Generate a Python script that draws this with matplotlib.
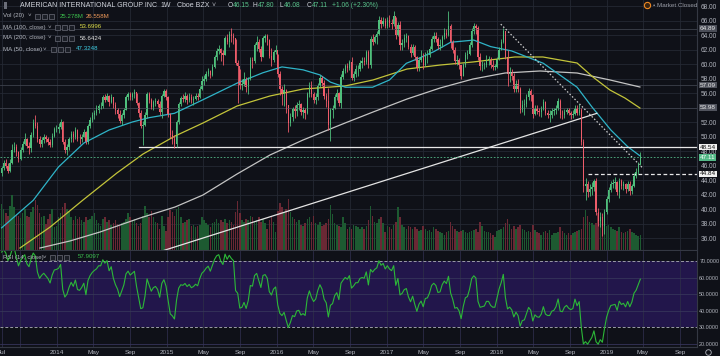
import numpy as np
import matplotlib
matplotlib.use('Agg')
import matplotlib.pyplot as plt
from matplotlib.patches import Rectangle
from matplotlib.lines import Line2D
import matplotlib.transforms as mtransforms
from matplotlib.ticker import FormatStrFormatter
import datetime as dt

plt.rcParams['font.family'] = ['Liberation Sans', 'DejaVu Sans']

# ---------------- DATA (weekly, first week = 2013-07-01) ----------------
first_week = dt.date(2013, 7, 1)
pre_closes = [38.6, 38.9, 38.8, 38.3, 39.9, 39.4, 41.5, 41.8, 44.4, 45.1, 45.5, 44.4, 45.0, 44.1, 43.7, 44.9]
last_open = 46.15

closes = [
    # 2013
    45.6, 46.3, 46.0, 45.3, 46.4, 48.2, 48.6, 47.8, 46.9, 48.1, 49.0, 49.6, 48.7, 48.4, 50.2, 51.8, 51.5, 49.7,
    48.9, 49.5, 49.9, 49.6, 49.3, 48.8, 50.1, 51.0, 51.1,
    # 2014
    51.3, 52.0, 49.3, 48.2, 48.6, 49.6, 50.4, 49.9, 50.9, 49.7, 49.6, 50.0, 50.6, 49.2, 51.4, 52.3, 52.9, 53.3,
    53.6, 54.2, 54.2, 55.4, 55.1, 55.6, 54.7, 55.4, 54.3, 53.6, 53.1, 52.2, 52.9, 53.7, 55.4, 55.9, 55.5, 55.8,
    56.1, 54.6, 53.2, 51.5, 51.6, 53.0, 55.9, 55.0, 54.1, 54.7, 54.9, 54.5, 53.4, 55.6, 56.3, 55.4,
    # 2015
    53.1, 50.2, 49.7, 48.9, 52.0, 54.5, 55.3, 55.2, 55.6, 55.1, 55.5, 55.0, 55.2, 55.6, 55.4, 56.6, 57.6, 58.0,
    58.6, 59.0, 58.5, 59.6, 60.9, 61.8, 62.1, 61.5, 61.2, 63.6, 63.1, 64.1, 63.8, 63.6, 60.1, 59.7, 57.1, 57.2,
    57.9, 56.8, 57.9, 60.5, 60.4, 62.6, 63.1, 62.1, 61.0, 63.6, 63.8, 63.3, 61.1, 60.5, 61.6, 62.0,
    # 2016
    58.6, 56.5, 55.9, 56.4, 54.3, 51.9, 52.7, 53.8, 53.5, 54.4, 54.5, 53.4, 53.6, 53.2, 55.8, 57.1, 55.9, 55.1,
    55.5, 57.0, 58.1, 57.4, 55.6, 54.9, 51.6, 53.6, 53.9, 55.4, 56.0, 54.6, 58.2, 59.0, 59.7, 59.4, 60.3, 58.1,
    58.6, 59.3, 59.3, 60.2, 60.4, 60.3, 61.6, 59.8, 63.4, 63.0, 63.7, 64.1, 66.1, 65.5, 66.0, 65.3,
    # 2017
    66.1, 65.7, 65.5, 66.6, 64.0, 65.4, 62.6, 62.9, 63.6, 63.8, 62.4, 61.5, 62.4, 60.9, 59.4, 60.5, 61.0, 59.9,
    61.2, 61.3, 62.1, 63.4, 63.8, 63.5, 62.5, 62.6, 63.7, 64.3, 64.0, 65.2, 63.0, 62.0, 60.4, 60.5, 59.9, 58.3,
    59.9, 61.2, 61.4, 62.6, 64.6, 65.2, 64.9, 61.0, 59.7, 59.8, 59.9, 60.6, 60.6, 59.9, 59.6, 59.6,
    # 2018
    60.7, 62.0, 63.0, 64.5, 61.0, 58.6, 58.9, 58.3, 56.6, 57.3, 56.5, 53.6, 54.4, 54.5, 55.4, 56.3, 55.7, 53.1,
    54.0, 53.5, 53.4, 53.8, 54.8, 53.3, 53.0, 53.0, 53.5, 53.6, 54.0, 54.9, 53.0, 52.9, 53.4, 53.6, 53.2, 53.0,
    53.1, 54.0, 53.2, 53.6, 49.2, 43.2, 43.5, 42.3, 42.7, 43.1, 43.9, 39.6, 38.3, 38.9, 37.7, 39.6, 41.4,
    # 2019
    42.6, 43.5, 43.6, 43.7, 42.4, 43.9, 43.2, 43.4, 42.7, 43.5, 42.5, 43.2, 44.6, 45.1, 46.05, 47.11,
]
highs = [
    45.9, 46.8, 46.9, 46.4, 46.9, 48.9, 49.2, 48.9, 48.0, 48.5, 49.4, 50.5, 49.8, 49.2, 50.6, 52.4, 53.0, 52.0,
    50.1, 49.9, 50.4, 50.2, 49.9, 49.6, 50.5, 51.3, 51.6,
    51.8, 52.4, 52.1, 49.6, 48.9, 50.0, 50.8, 50.7, 51.3, 51.1, 50.3, 50.4, 51.1, 50.8, 51.7, 52.7, 53.4, 53.7,
    54.3, 54.5, 54.7, 55.7, 55.9, 56.0, 55.7, 55.8, 55.5, 54.8, 54.0, 53.6, 53.2, 54.0, 55.7, 56.1, 56.2, 56.1,
    56.5, 56.0, 54.7, 53.7, 52.2, 53.4, 56.2, 56.2, 55.3, 55.0, 55.3, 55.2, 54.9, 55.9, 56.6, 56.5,
    55.6, 53.3, 50.9, 50.2, 52.3, 54.8, 55.6, 55.9, 56.2, 55.9, 56.0, 55.8, 55.6, 56.0, 56.0, 56.9, 58.3, 58.5,
    59.0, 59.5, 59.2, 60.0, 61.3, 62.2, 62.6, 62.2, 62.0, 63.9, 64.2, 64.5, 64.9, 64.3, 63.5, 60.6, 59.3, 58.0,
    58.9, 58.2, 58.2, 60.9, 61.0, 62.9, 63.8, 63.4, 62.5, 63.9, 64.2, 64.1, 63.4, 62.2, 61.9, 62.6,
    61.4, 59.0, 57.0, 57.3, 56.6, 54.0, 53.3, 54.1, 54.4, 54.8, 55.1, 54.6, 54.1, 54.0, 56.1, 57.5, 57.6, 56.2,
    56.0, 57.4, 58.5, 58.3, 57.8, 56.0, 56.7, 53.9, 54.4, 55.8, 56.5, 56.2, 58.6, 59.4, 60.0, 60.2, 60.6, 60.9,
    59.0, 59.8, 59.9, 60.6, 61.0, 61.0, 62.0, 61.9, 63.9, 64.1, 64.0, 64.6, 66.6, 66.5, 66.5, 66.3,
    66.5, 66.8, 66.2, 67.3, 66.5, 65.8, 65.9, 63.4, 64.2, 64.3, 64.0, 62.8, 62.8, 62.6, 61.1, 60.9, 61.9, 61.5,
    61.6, 61.9, 62.5, 63.8, 64.4, 64.4, 63.7, 63.5, 64.0, 64.9, 64.8, 67.3, 65.5, 63.3, 62.4, 61.2, 60.8, 59.9,
    60.2, 61.6, 61.9, 63.0, 64.9, 65.6, 65.5, 65.2, 61.5, 60.4, 60.3, 61.3, 61.1, 60.9, 60.5, 60.0,
    61.0, 62.3, 63.4, 64.9, 64.6, 61.9, 59.6, 59.3, 58.8, 57.8, 57.9, 56.8, 55.0, 55.2, 55.8, 56.7, 56.5, 55.8,
    54.4, 54.3, 53.9, 54.2, 55.2, 54.9, 53.7, 53.6, 53.9, 54.0, 54.4, 55.3, 55.2, 53.6, 53.8, 54.0, 53.9, 53.5,
    53.6, 54.4, 54.3, 54.5, 53.9, 49.6, 44.3, 43.9, 43.4, 43.7, 44.2, 44.3, 40.2, 39.6, 39.4, 40.0, 41.8,
    43.0, 43.9, 44.2, 44.4, 43.9, 44.3, 44.1, 43.9, 43.6, 43.9, 43.8, 43.5, 44.9, 45.6, 46.5, 47.80,
]
lows = [
    44.6, 45.4, 45.7, 45.0, 45.1, 46.2, 47.9, 47.3, 46.5, 46.8, 47.9, 48.8, 48.4, 47.6, 47.9, 50.0, 51.2, 49.2,
    48.5, 48.6, 49.1, 49.3, 48.8, 48.5, 48.6, 50.0, 50.6,
    50.5, 51.0, 49.0, 47.7, 47.4, 48.2, 49.3, 49.2, 49.6, 49.4, 48.9, 49.2, 49.9, 48.9, 49.0, 51.2, 52.0, 52.4,
    53.0, 53.3, 53.8, 54.0, 54.8, 54.9, 54.2, 54.6, 54.0, 53.1, 52.6, 51.9, 51.6, 52.6, 53.6, 55.1, 55.0, 55.0,
    55.3, 54.3, 52.7, 51.2, 48.8, 51.4, 52.6, 54.6, 53.8, 53.7, 54.2, 54.1, 52.9, 52.6, 55.4, 55.0,
    52.7, 49.8, 49.0, 48.4, 48.6, 51.7, 54.2, 54.8, 54.8, 54.5, 54.8, 54.6, 54.4, 55.0, 55.0, 55.3, 56.4, 57.1,
    57.6, 58.4, 58.1, 58.4, 59.4, 60.6, 61.4, 60.4, 59.9, 61.2, 62.8, 62.4, 63.0, 62.8, 59.9, 54.6, 56.6, 56.4,
    56.9, 56.2, 55.8, 57.8, 59.5, 60.2, 61.8, 61.7, 60.4, 60.9, 63.1, 62.6, 60.8, 59.7, 60.3, 61.4,
    58.2, 55.7, 54.3, 54.2, 53.2, 50.6, 51.5, 52.1, 52.6, 52.8, 53.7, 53.0, 52.6, 52.4, 53.1, 55.5, 55.5, 54.6,
    54.5, 55.1, 56.8, 56.9, 55.2, 54.1, 50.9, 49.4, 52.6, 53.8, 55.0, 54.2, 54.0, 58.0, 58.8, 58.9, 59.2, 57.8,
    57.6, 58.2, 58.3, 59.0, 59.4, 59.8, 60.0, 59.5, 59.5, 62.6, 62.9, 62.8, 64.0, 64.9, 65.3, 65.0,
    65.0, 65.1, 64.8, 65.3, 63.5, 63.8, 62.0, 62.0, 62.4, 63.0, 62.1, 60.9, 61.2, 60.6, 59.1, 59.0, 60.3, 59.3,
    59.7, 60.2, 61.0, 61.9, 63.1, 63.0, 62.1, 62.0, 62.3, 63.4, 63.6, 63.9, 62.2, 61.5, 60.0, 59.8, 59.3, 58.0,
    58.4, 59.6, 60.7, 61.3, 62.4, 64.2, 64.2, 60.6, 59.2, 59.1, 59.3, 59.6, 59.9, 59.5, 59.2, 59.2,
    59.5, 60.5, 61.9, 62.9, 60.7, 57.0, 57.5, 57.8, 56.2, 56.1, 56.2, 53.2, 53.4, 52.9, 54.1, 55.1, 54.9, 52.6,
    52.9, 53.1, 52.8, 52.7, 53.6, 52.9, 52.5, 52.0, 52.6, 52.9, 53.1, 53.7, 52.5, 52.4, 52.5, 53.1, 52.9, 52.4,
    52.6, 52.9, 53.0, 52.9, 48.8, 42.4, 41.2, 41.6, 41.8, 42.0, 42.5, 39.2, 37.6, 37.5, 36.3, 36.6, 39.3,
    41.0, 42.3, 42.9, 42.8, 42.0, 41.5, 42.8, 42.6, 42.2, 42.5, 42.0, 42.1, 43.0, 44.3, 44.8, 46.08,
]
volume_m = [
    # 2013
    78, 70, 62, 58, 75, 92, 72, 60, 58, 54, 62, 70, 58, 55, 64, 72, 85, 76, 62, 55, 58, 44, 52, 60, 70, 38, 40,
    # 2014
    55, 62, 72, 80, 70, 66, 55, 50, 58, 52, 55, 50, 48, 55, 50, 52, 58, 62, 50, 45, 40, 52, 55, 48, 50, 42,
    46, 50, 44, 40, 45, 48, 52, 62, 56, 50, 52, 45, 40, 45, 58, 74, 62, 56, 66, 55, 48, 45, 36, 58, 40, 32,
    # 2015
    55, 68, 64, 58, 70, 72, 55, 45, 48, 50, 52, 40, 42, 38, 40, 42, 56, 50, 45, 42, 38, 45, 48, 52, 45, 50,
    48, 52, 45, 50, 48, 42, 64, 82, 62, 50, 48, 52, 50, 58, 55, 48, 50, 55, 48, 52, 45, 35, 50, 55, 48, 30,
    # 2016
    66, 80, 72, 64, 70, 86, 64, 55, 52, 48, 50, 42, 40, 45, 52, 55, 48, 58, 45, 42, 48, 40, 42, 45, 52, 76,
    60, 45, 42, 40, 38, 55, 45, 35, 38, 35, 42, 40, 38, 35, 38, 36, 40, 50, 74, 58, 48, 45, 52, 55, 45, 30,
    # 2017
    40, 38, 36, 42, 48, 72, 55, 42, 38, 36, 40, 38, 35, 38, 36, 32, 34, 40, 35, 32, 34, 30, 38, 36, 32, 30,
    28, 26, 30, 32, 48, 40, 36, 32, 30, 32, 34, 30, 28, 30, 32, 34, 35, 30, 48, 40, 32, 30, 30, 28, 26, 22,
    # 2018
    32, 34, 35, 38, 45, 52, 44, 36, 40, 36, 38, 42, 35, 34, 30, 32, 30, 42, 34, 30, 28, 26, 30, 32, 28, 34,
    26, 28, 28, 30, 38, 32, 28, 26, 28, 26, 28, 30, 32, 34, 36, 55, 68, 58, 48, 45, 42, 45, 62, 50, 48, 55, 40,
    # 2019
    42, 38, 36, 34, 32, 38, 30, 28, 30, 32, 35, 30, 28, 26, 24, 25.28,
]
assert len(closes) == len(highs) == len(lows) == len(volume_m), (len(closes), len(highs), len(lows), len(volume_m))

# moving averages: (week index, value)
ma50_w = [0, 15, 27, 39, 51, 62, 70, 82, 95, 112, 124, 133, 143, 151, 156, 163, 176, 184, 192, 198, 205, 213, 224, 232, 242, 257, 273, 280, 289, 297, 303]
ma50_v = [37.4, 41.2, 45.8, 49.1, 50.9, 52.0, 52.6, 53.2, 55.0, 57.4, 58.8, 59.6, 59.2, 58.5, 57.5, 56.8, 56.8, 57.8, 60.1, 60.8, 61.7, 63.0, 63.3, 62.4, 61.8, 60.1, 56.8, 54.1, 50.9, 48.6, 47.3]
ma100_w = [8.7, 23.0, 38.6, 54.7, 67.1, 82.3, 95.5, 111.7, 127.3, 143.0, 162.9, 176.2, 192.3, 208.0, 223.6, 243.5, 256.8, 273.0, 280.5, 288.6, 295.7, 302.8]
ma100_v = [34.62, 37.51, 41.24, 44.97, 47.59, 50.07, 51.86, 54.21, 55.59, 56.55, 56.97, 57.80, 59.31, 59.86, 60.28, 60.97, 60.97, 60.14, 58.21, 56.41, 55.31, 53.93]
ma200_w = [18.2, 32.4, 46.7, 65.7, 82.3, 95.5, 111.7, 127.3, 143.0, 162.9, 176.2, 192.3, 208.0, 223.6, 238.8, 255.4, 273.0, 288.6, 302.8]
ma200_v = [34.62, 35.59, 36.83, 38.76, 40.28, 41.93, 44.83, 47.45, 49.52, 51.86, 53.38, 55.17, 56.69, 57.93, 58.76, 59.04, 58.76, 57.80, 56.83]

# drawings
trend_w = [76, 282.4]
trend_p = [34.2, 53.2]
dotted_w = [236.8, 304.3]
dotted_p = [65.5, 45.6]
hline_support = 48.54
hline_support_from = 65
hline_dash = 44.84
hline_dash_from = 278
gray_levels = [64.89, 57.09, 53.98]
last_price = 47.11

price_ticks = [36, 38, 40, 42, 44, 46, 48, 50, 52, 56, 58, 60, 62, 64, 66, 68]
grid_prices = list(range(36, 70, 2))
rsi_ticks = [20, 30, 40, 50, 60, 70]
time_ticks = [(dt.date(2013, 7, 1), 'Jul'), (dt.date(2014, 1, 1), '2014'), (dt.date(2014, 5, 1), 'May'),
              (dt.date(2014, 9, 1), 'Sep'), (dt.date(2015, 1, 1), '2015'), (dt.date(2015, 5, 1), 'May'),
              (dt.date(2015, 9, 1), 'Sep'), (dt.date(2016, 1, 1), '2016'), (dt.date(2016, 5, 1), 'May'),
              (dt.date(2016, 9, 1), 'Sep'), (dt.date(2017, 1, 1), '2017'), (dt.date(2017, 5, 1), 'May'),
              (dt.date(2017, 9, 1), 'Sep'), (dt.date(2018, 1, 1), '2018'), (dt.date(2018, 5, 1), 'May'),
              (dt.date(2018, 9, 1), 'Sep'), (dt.date(2019, 1, 1), '2019'), (dt.date(2019, 5, 1), 'May'),
              (dt.date(2019, 9, 1), 'Sep')]
extra_grid_dates = [dt.date(2013, 9, 1)]

# ---------------- STYLE / LAYOUT ----------------
W, H = 720, 356
BG = '#0f1118'
GRID = '#242833'
TXT = '#b2b5be'
UP, DN = '#4fbf7c', '#ee5c6a'
VUP, VDN = '#1d5a31', '#6a2834'
PURPLE = '#22164b'

fig = plt.figure(figsize=(7.2, 3.56), dpi=100)
fig.patch.set_facecolor(BG)

def fx(px):
    return px / W

def fy(py):
    return 1 - py / H

X_RIGHT = 697
P_TOP, P_BOT = 0, 250
R_TOP, R_BOT = 251, 347
rect_p = [0, fy(P_BOT), fx(X_RIGHT), (P_BOT - P_TOP) / H]
rect_r = [0, fy(R_BOT), fx(X_RIGHT), (R_BOT - R_TOP) / H]

px_week, px0 = 2.108, 1.6
xlim = ((0 - px0) / px_week, (X_RIGHT - px0) / px_week)
p_ylim = (68.83 - P_BOT / 7.25, 68.83)
r_ylim = (70 - (R_BOT - 261) / 1.66, 70 + (261 - R_TOP) / 1.66)

def widx(d):
    return (d - first_week).days / 7.0

grid_x = [widx(d) for d, _ in time_ticks] + [widx(d) for d in extra_grid_dates]

# background + grid
ax_bg = fig.add_axes(rect_p)
ax_bg.set_facecolor(BG)
ax_bg.set_xlim(xlim); ax_bg.set_ylim(p_ylim)
for p in grid_prices:
    ax_bg.axhline(p, color=GRID, lw=0.6)
for gx in grid_x:
    ax_bg.axvline(gx, color=GRID, lw=0.6)
ax_bg.axis('off')

n = len(closes)
idx = np.arange(n)
c = np.array(closes, float)
o = np.array([pre_closes[-1]] + closes[:-1], float)
o[-1] = last_open
hi = np.array(highs, float)
lo = np.array(lows, float)
up = c >= o

# volume
ax_v = fig.add_axes(rect_p)
ax_v.set_facecolor('none')
ax_v.bar(idx, volume_m, width=0.72, color=np.where(up, VUP, VDN), linewidth=0)
ax_v.set_xlim(xlim); ax_v.set_ylim(0, 422)
ax_v.axis('off')

# price
ax = fig.add_axes(rect_p)
ax.set_facecolor('none')
ax.set_xlim(xlim); ax.set_ylim(p_ylim)
for lvl in gray_levels:
    ax.axhline(lvl, color='#3d414c', lw=0.6)
ax.plot(ma200_w, ma200_v, color='#c4c4c4', lw=0.9)
ax.plot(ma100_w, ma100_v, color='#c3c43a', lw=0.9)
ax.plot(ma50_w, ma50_v, color='#2fb4c8', lw=0.9)
ax.plot(trend_w, trend_p, color='#e4e4e4', lw=0.9)
ax.plot(dotted_w, dotted_p, color='#cfcfcf', lw=0.9, ls=(0, (1.2, 1.6)))
ax.plot([hline_support_from, xlim[1]], [hline_support] * 2, color='#e8e8e8', lw=0.9)
ax.plot([hline_dash_from, xlim[1]], [hline_dash] * 2, color='#e8e8e8', lw=0.9, ls=(0, (3, 2)))
ax.axhline(last_price, color='#53b987', lw=0.6, ls=(0, (2, 2)))
cols = np.where(up, UP, DN)
ax.vlines(idx, lo, hi, colors=cols, lw=0.6)
ax.bar(idx, np.maximum(np.abs(c - o), 0.07), bottom=np.minimum(o, c), width=0.62, color=cols, linewidth=0)

ax.set_xticks([])
ax.yaxis.tick_right()
ax.set_yticks(price_ticks)
ax.yaxis.set_major_formatter(FormatStrFormatter('%.2f'))
ax.tick_params(axis='y', length=0, pad=2.5, labelsize=4.7, labelcolor=TXT)
for s in ['top', 'left']:
    ax.spines[s].set_visible(False)
for s in ['right', 'bottom']:
    ax.spines[s].set_color('#343843'); ax.spines[s].set_linewidth(0.8)

bt = mtransforms.blended_transform_factory(ax.transAxes, ax.transData)
boxes = [(64.89, '#4a4d57', '#e8e8e8'), (57.09, '#50535d', '#e8e8e8'), (53.98, '#50535d', '#e8e8e8'),
         (48.54, '#f0f0f0', '#111111'), (47.11, '#53b987', '#ffffff'), (44.84, '#f0f0f0', '#111111')]
for val, fc, tc in boxes:
    ax.text(1 + 3.0 / X_RIGHT, val, '%.2f' % val, transform=bt, ha='left', va='center', fontsize=4.6,
            color=tc, clip_on=False, bbox=dict(boxstyle='square,pad=0.12', fc=fc, ec='none'))

# ---------------- RSI ----------------
allc = np.array(pre_closes + closes, float)
d = np.diff(allc)
gain = np.clip(d, 0, None); loss = np.clip(-d, 0, None)
N = 14
rsi = np.full(len(allc), np.nan)
ag, al = gain[:N].mean(), loss[:N].mean()
rsi[N] = 100 - 100 / (1 + ag / al)
for k in range(N + 1, len(allc)):
    ag = (ag * (N - 1) + gain[k - 1]) / N
    al = (al * (N - 1) + loss[k - 1]) / N
    rsi[k] = 100.0 if al == 0 else 100 - 100 / (1 + ag / al)
rsi_w = rsi[len(pre_closes):]

axr = fig.add_axes(rect_r)
axr.set_facecolor(BG)
axr.set_xlim(xlim); axr.set_ylim(r_ylim)
axr.axhspan(30, 70, color=PURPLE, lw=0)
for gx in grid_x:
    axr.axvline(gx, color='#2c2c48', lw=0.6)
for rv in [20, 40, 50, 60]:
    axr.axhline(rv, color='#36345a', lw=0.6)
for rv in [30, 70]:
    axr.axhline(rv, color='#9a9ca6', lw=0.7, ls=(0, (3, 2)))
axr.plot(idx, rsi_w, color='#2cb838', lw=0.8)
axr.yaxis.tick_right()
axr.set_yticks(rsi_ticks)
axr.yaxis.set_major_formatter(FormatStrFormatter('%.4f'))
axr.tick_params(axis='y', length=0, pad=1.6, labelsize=3.9, labelcolor=TXT)
axr.set_xticks([widx(dd) for dd, _ in time_ticks])
axr.set_xticklabels([lab for _, lab in time_ticks])
axr.tick_params(axis='x', length=0, pad=2.0, labelsize=4.6, labelcolor=TXT)
for s in ['top', 'left']:
    axr.spines[s].set_visible(False)
for s in ['right', 'bottom']:
    axr.spines[s].set_color('#343843'); axr.spines[s].set_linewidth(0.8)

# ---------------- LEGEND TEXTS ----------------
def t(x, y, s, color=TXT, size=4.4, **kw):
    fig.text(fx(x), fy(y), s, color=color, fontsize=size, va='center', ha='left', **kw)

def icons(x, y):
    for k in range(3):
        fig.add_artist(Rectangle((fx(x + k * 7), fy(y + 2.5)), 5.0 / W, 5.0 / H, transform=fig.transFigure,
                                 fc='#1b1e26', ec='#6a6d78', lw=0.5))

GREEN = '#58c28a'
TS = 5.0
fig.add_artist(Rectangle((fx(4), fy(8.5)), 3 / W, 6 / H, transform=fig.transFigure, fc='#6a6d78', ec='none'))
t(20, 5.5, 'AMERICAN INTERNATIONAL GROUP INC', color='#d1d4dc', size=TS)
t(160, 5.5, '1W', color='#d1d4dc', size=TS)
t(177, 5.5, 'Cboe BZX', color='#d1d4dc', size=TS)
t(212, 5.5, '˅', color=TXT, size=TS)
for x_l, lab, x_v, val in [(228, 'O', 233, '46.15'), (253, 'H', 258, '47.80'),
                           (279, 'L', 284, '46.08'), (307, 'C', 312, '47.11')]:
    t(x_l, 5.5, lab, color='#d1d4dc', size=4.8)
    t(x_v, 5.5, val, color=GREEN, size=4.8)
t(332, 5.5, '+1.06 (+2.30%)', color=GREEN, size=4.8)

t(3, 16, 'Vol (20)')
t(28, 16, '˅')
icons(35, 16)
t(60, 16, '25.278M', color='#3cc24e')
t(86, 16, '26.558M', color='#ef9a5a')

t(3, 27, 'MA (100, close)')
t(48, 27, '˅')
icons(55, 27)
t(80, 27, '53.6996', color='#e0e04a')

t(3, 38, 'MA (200, close)')
t(48, 38, '˅')
icons(55, 38)
t(80, 38, '56.6424', color='#e6e6e6')

t(3, 49, 'MA (50, close)')
t(43, 49, '˅')
icons(51, 49)
t(76, 49, '47.3248', color='#3fd0e6')

t(3, 257, 'RSI (14, close)')
t(43, 257, '˅')
icons(50, 257)
t(78, 257, '57.9097', color='#3cc24e')

fig.add_artist(Line2D([fx(647)], [fy(5)], marker='o', markersize=4.5, mfc='#3a2410', mec='#f08a24', mew=0.8,
                      transform=fig.transFigure))
t(653, 5.5, '• Market Closed', color='#9598a1', size=4.5)
fig.add_artist(Line2D([fx(708)], [fy(352)], marker='o', markersize=4, mfc='none', mec=TXT, mew=0.6,
                      transform=fig.transFigure))

fig.savefig('out.png', dpi=100, facecolor=BG)
